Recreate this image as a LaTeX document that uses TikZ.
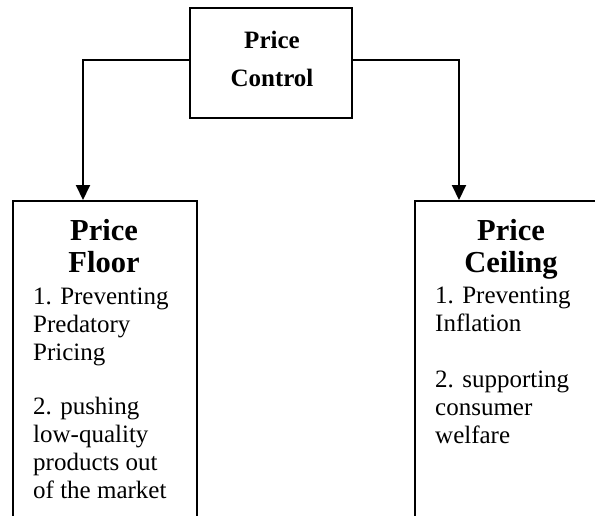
\documentclass[tikz,border=0pt]{standalone}
\usepackage{fontspec}
\setmainfont{Liberation Serif}
\usetikzlibrary{arrows.meta}

\tikzset{
  box/.style={draw, line width=2pt, inner sep=0pt},
  heading/.style={font=\bfseries\fontsize{30.5}{32}\selectfont, align=center, anchor=base},
  item/.style={font=\fontsize{25}{28}\selectfont, align=left, anchor=base west, inner sep=0pt},
  arrow/.style={line width=2pt, -{Triangle[width=14pt,length=15pt]}}
}

\begin{document}
\begin{tikzpicture}[x=1pt,y=-1pt]
\useasboundingbox (0,0) rectangle (595,515);

% Price control on top
\node[box, minimum width=162pt, minimum height=110pt] (control) at (271,63) {};
\node[font=\bfseries\fontsize{25}{38}\selectfont, align=center, anchor=base] (controltext) at (272,86) {Price\\Control};

% Price floor (left), anchored at the last baseline
\node[box, minimum width=184pt, minimum height=340pt, anchor=north west] (floor) at (12,200) {};
\node[heading] (floortitle) at (104,272) {Price\\Floor};
\node[item] (flooritema) at (33,360) {1. Preventing\\Predatory\\Pricing};
\node[item] (flooritemb) at (33,498) {2. pushing\\low-quality\\products out\\of the market};

% Price ceiling (right)
\node[box, minimum width=194pt, minimum height=340pt, anchor=north west] (ceiling) at (414,200) {};
\node[heading] (ceilingtitle) at (511,272) {Price\\Ceiling};
\node[item] (ceilingitema) at (435,331) {1. Preventing\\Inflation};
\node[item] (ceilingitemb) at (435,443) {2. supporting\\consumer\\welfare};

% Arrows
\draw[arrow] ([yshift=3pt]control.west) -| ([xshift=71pt]floor.north west);
\draw[arrow] ([yshift=3pt]control.east) -| ([xshift=45pt]ceiling.north west);

\end{tikzpicture}
\end{document}
